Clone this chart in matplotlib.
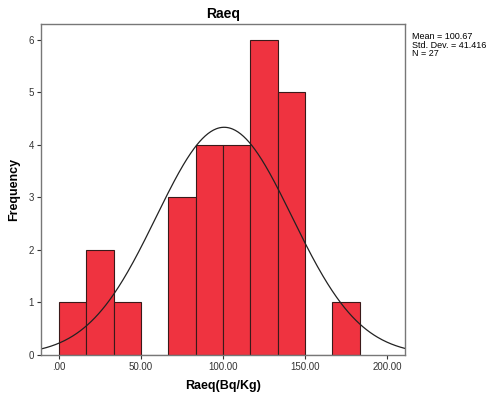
import numpy as np
import matplotlib
matplotlib.use("Agg")
import matplotlib.pyplot as plt

bin_edges = [0.0, 16.667, 33.333, 50.0, 66.667, 83.333, 100.0, 116.667, 133.333, 150.0, 166.667, 183.333]
counts = [1, 2, 1, 0, 3, 4, 4, 6, 5, 0, 1]
mean_val = 100.67
std_val = 41.416
n_val = 27
xticks = [0, 50, 100, 150, 200]
xticklabels = [".00", "50.00", "100.00", "150.00", "200.00"]
yticks = [0, 1, 2, 3, 4, 5, 6]

plt.rcParams['font.family'] = ['Liberation Sans', 'DejaVu Sans']
fig = plt.figure(figsize=(4.88, 3.94), dpi=100)
ax = fig.add_axes([0.084, 0.099, 0.746, 0.84])

edges = np.array(bin_edges)
widths = np.diff(edges)
ax.bar(edges[:-1], counts, width=widths, align='edge', color='#EF3340',
       edgecolor='#3a1a1a', linewidth=0.8)

xs = np.linspace(-11, 211, 400)
bw = widths.mean()
ys = n_val * bw / (std_val * np.sqrt(2 * np.pi)) * np.exp(-0.5 * ((xs - mean_val) / std_val) ** 2)
ax.plot(xs, ys, color='#222222', linewidth=0.9)

ax.set_xlim(-11, 211)
ax.set_ylim(0, 6.3)
ax.set_xticks(xticks)
ax.set_xticklabels(xticklabels, fontsize=7)
ax.set_yticks(yticks)
ax.set_yticklabels([str(v) for v in yticks], fontsize=7)
ax.tick_params(direction='out', length=3, width=0.8, colors='#333333', pad=2)
for s in ax.spines.values():
    s.set_color('#777777')
    s.set_linewidth(1.0)

ax.set_xlabel('Raeq(Bq/Kg)', fontsize=9, fontweight='bold', labelpad=6)
ax.set_ylabel('Frequency', fontsize=9, fontweight='bold', labelpad=6)
ax.set_title('Raeq', fontsize=10, fontweight='bold', pad=4)

fig.text(412 / 488, 1 - 45 / 394,
         f"Mean = {mean_val:.2f}\nStd. Dev. = {std_val:.3f}\nN = {n_val}",
         fontsize=6.5, va='center', ha='left', linespacing=0.9)

fig.savefig('out.png', dpi=100)
